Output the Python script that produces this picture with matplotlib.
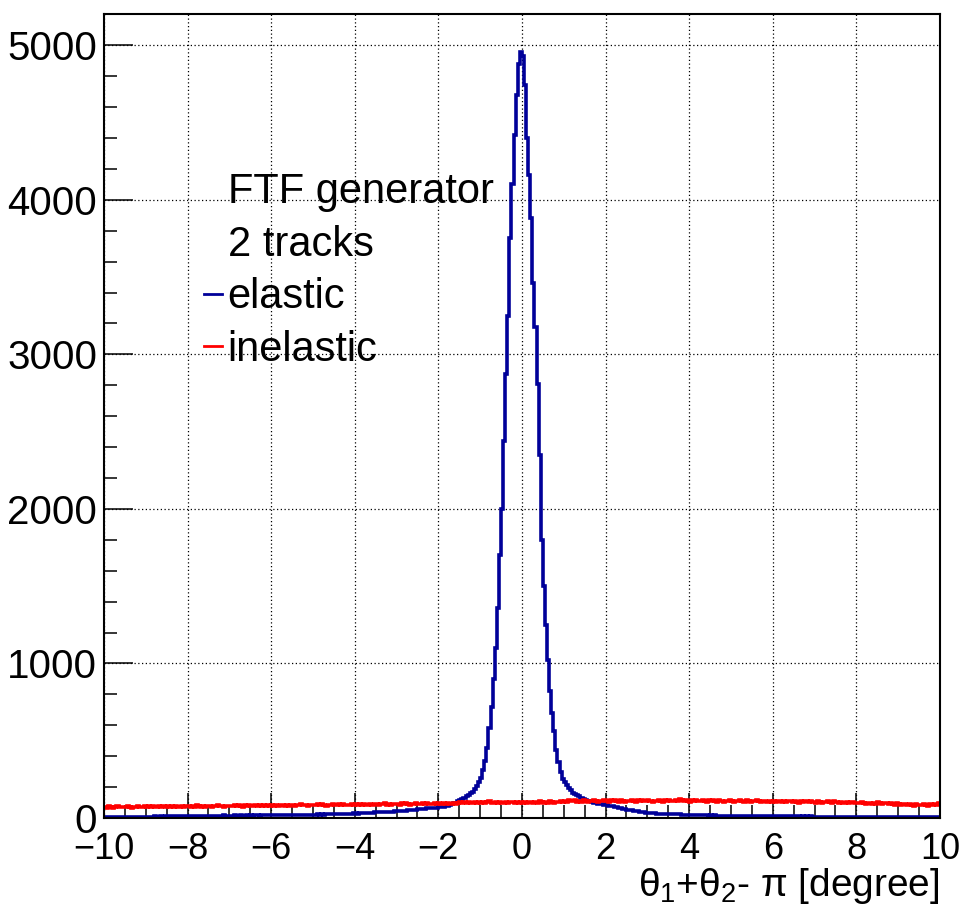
import numpy as np
import matplotlib
matplotlib.use("Agg")
import matplotlib.pyplot as plt
from matplotlib.lines import Line2D
from matplotlib.ticker import MultipleLocator

plt.rcParams["font.family"] = ["Liberation Sans", "DejaVu Sans"]
plt.rcParams["mathtext.fontset"] = "custom"
plt.rcParams["mathtext.rm"] = "Liberation Sans"
plt.rcParams["mathtext.it"] = "Liberation Sans"
plt.rcParams["mathtext.bf"] = "Liberation Sans:bold"

# Histogram range and binning (degrees)
x_min, x_max, n_bins = -10.0, 10.0, 400

# Counts per 0.05-degree bin, elastic events
elastic = [
    6, 7, 6, 8, 7, 6, 7, 8, 6, 7, 8, 7, 6, 8, 9, 7, 8, 7, 8, 9,
    8, 9, 8, 9, 10, 8, 9, 10, 9, 10, 12, 13, 12, 14, 13, 12, 14, 13, 15, 13,
    14, 13, 15, 14, 13, 15, 14, 15, 13, 14, 15, 14, 16, 15, 14, 16, 15, 17, 15, 16,
    15, 16, 17, 15, 16, 17, 16, 15, 17, 16, 17, 16, 18, 17, 16, 18, 17, 19, 17, 18,
    18, 17, 19, 18, 17, 19, 18, 20, 18, 19, 19, 20, 19, 21, 20, 19, 21, 20, 22, 21,
    22, 21, 23, 22, 24, 22, 23, 25, 24, 23, 25, 24, 26, 27, 25, 28, 27, 29, 28, 30,
    31, 29, 32, 31, 33, 32, 34, 33, 35, 36, 37, 36, 38, 39, 38, 40, 41, 40, 42, 43,
    45, 44, 47, 48, 47, 50, 51, 52, 54, 55, 57, 58, 60, 59, 62, 63, 64, 66, 67, 68,
    70, 72, 74, 77, 80, 85, 90, 95, 100, 108, 115, 122, 130, 140, 150, 160, 170, 185, 205, 230,
    260, 310, 370, 450, 580, 720, 900, 1100, 1360, 1700, 2000, 2440, 2870, 3250, 3750, 4100, 4420, 4680, 4880, 4955,
    4930, 4740, 4400, 4160, 3880, 3460, 3180, 2810, 2350, 1800, 1500, 1250, 1020, 820, 680, 560, 440, 360, 300, 255,
    230, 215, 195, 180, 165, 155, 148, 140, 132, 125, 118, 112, 108, 104, 100, 96, 92, 90, 88, 85,
    82, 80, 77, 75, 72, 70, 67, 64, 61, 58, 55, 52, 50, 48, 45, 43, 41, 39, 37, 35,
    33, 32, 31, 30, 29, 28, 28, 27, 26, 26, 25, 25, 24, 24, 23, 23, 22, 22, 21, 21,
    20, 19, 20, 18, 19, 18, 17, 18, 17, 16, 17, 16, 17, 15, 16, 15, 16, 15, 14, 15,
    15, 14, 15, 14, 13, 14, 13, 14, 13, 12, 13, 12, 13, 12, 13, 12, 11, 12, 11, 12,
    11, 12, 11, 10, 11, 10, 11, 10, 11, 10, 10, 11, 10, 9, 10, 9, 10, 9, 10, 9,
    9, 8, 9, 8, 9, 8, 9, 8, 9, 8, 8, 9, 8, 7, 8, 7, 8, 7, 8, 7,
    7, 8, 7, 6, 7, 6, 7, 6, 7, 6, 7, 6, 7, 6, 5, 6, 5, 6, 5, 6,
    6, 5, 6, 5, 6, 5, 6, 5, 6, 5, 5, 6, 5, 4, 5, 4, 5, 6, 5, 5,
]

# Counts per 0.05-degree bin, inelastic events
inelastic = [
    72, 68, 75, 70, 66, 73, 78, 71, 69, 74, 70, 76, 72, 67, 74, 71, 77, 73, 70, 75,
    73, 78, 71, 75, 69, 74, 79, 72, 76, 70, 75, 73, 77, 71, 78, 74, 70, 76, 73, 79,
    76, 72, 79, 74, 81, 75, 71, 78, 74, 80, 77, 73, 79, 76, 82, 75, 78, 74, 80, 77,
    79, 75, 82, 77, 84, 78, 74, 81, 77, 83, 80, 76, 82, 79, 85, 78, 81, 77, 84, 80,
    82, 78, 85, 80, 87, 81, 77, 84, 80, 86, 83, 79, 85, 82, 88, 81, 84, 80, 87, 83,
    85, 81, 88, 83, 90, 84, 80, 87, 83, 89, 86, 82, 88, 85, 91, 84, 87, 83, 90, 86,
    88, 84, 91, 86, 93, 87, 83, 90, 86, 92, 89, 85, 91, 88, 94, 87, 90, 86, 93, 89,
    91, 87, 94, 89, 96, 90, 86, 93, 89, 95, 92, 88, 94, 91, 97, 90, 93, 89, 96, 92,
    94, 90, 97, 92, 99, 93, 89, 96, 92, 98, 101, 95, 104, 97, 106, 99, 94, 102, 97, 105,
    98, 103, 96, 101, 107, 99, 94, 102, 97, 104, 100, 95, 103, 98, 106, 101, 96, 104, 99, 102,
    97, 103, 99, 106, 101, 95, 104, 98, 107, 102, 96, 105, 100, 108, 103, 97, 106, 101, 109, 104,
    110, 104, 116, 107, 112, 118, 105, 111, 106, 114, 108, 103, 112, 107, 115, 109, 104, 113, 108, 116,
    110, 105, 114, 108, 117, 111, 106, 115, 109, 104, 113, 108, 116, 110, 105, 114, 109, 118, 112, 107,
    115, 109, 104, 113, 108, 117, 111, 106, 115, 110, 119, 112, 107, 116, 110, 121, 114, 108, 117, 112,
    106, 115, 109, 118, 112, 107, 116, 110, 105, 114, 109, 117, 111, 106, 115, 110, 104, 113, 108, 116,
    110, 105, 113, 108, 116, 111, 106, 114, 109, 103, 112, 107, 115, 110, 104, 113, 108, 102, 111, 106,
    109, 104, 112, 107, 101, 110, 105, 113, 108, 102, 111, 106, 100, 109, 104, 112, 107, 101, 110, 105,
    99, 108, 103, 97, 106, 101, 109, 104, 98, 107, 102, 96, 105, 100, 94, 103, 98, 106, 101, 95,
    99, 94, 102, 97, 91, 100, 95, 89, 98, 93, 101, 96, 90, 99, 94, 88, 97, 92, 86, 95,
    90, 85, 93, 88, 82, 91, 86, 80, 89, 84, 87, 82, 90, 85, 80, 88, 83, 92, 87, 96,
]

x_ticks = [-10, -8, -6, -4, -2, 0, 2, 4, 6, 8, 10]
y_ticks = [0, 1000, 2000, 3000, 4000, 5000]
legend_labels = ["FTF generator", "2 tracks", "elastic", "inelastic"]
x_title = r"$\theta_{1}$+$\theta_{2}$- $\pi$ [degree]"

blue = "#000099"
red = "#ff0000"

edges = np.linspace(x_min, x_max, n_bins + 1)
y_top = 1.05 * max(elastic)

fig = plt.figure(figsize=(9.67, 9.08), dpi=100)
ax = fig.add_axes([0.1075, 0.0991, 0.8645, 0.8855])

ax.stairs(elastic, edges, color=blue, lw=2.6, baseline=None)
ax.stairs(inelastic, edges, color=red, lw=2.6, baseline=None)

ax.set_xlim(x_min, x_max)
ax.set_ylim(0, y_top)
ax.set_xticks(x_ticks)
ax.set_yticks(y_ticks)
ax.xaxis.set_minor_locator(MultipleLocator(0.5))
ax.yaxis.set_minor_locator(MultipleLocator(200))

ax.grid(True, which="major", color="black", lw=0.9, linestyle=(0, (1, 2)))
ax.set_axisbelow(True)

for s in ax.spines.values():
    s.set_linewidth(1.5)
    s.set_color("black")

ax.tick_params(axis="both", which="both", direction="in", top=False, right=False, width=1.1, color="black")
ax.tick_params(axis="y", which="major", length=21, labelsize=29, pad=5)
ax.tick_params(axis="y", which="minor", length=9.5)
ax.tick_params(axis="x", which="major", length=18, labelsize=26, pad=10)
ax.tick_params(axis="x", which="minor", length=9.5)

ax.set_xlabel(x_title, fontsize=28, loc="right", labelpad=-1)

handles = [
    Line2D([], [], color="none"),
    Line2D([], [], color="none"),
    Line2D([], [], color=blue, lw=2.0),
    Line2D([], [], color=red, lw=2.0),
]
ax.legend(handles, legend_labels, loc="upper left", bbox_to_anchor=(0.12, 0.803),
          frameon=False, fontsize=30, handlelength=0.42, handletextpad=0.14,
          labelspacing=0.3, borderpad=0.0, borderaxespad=0.0)

fig.savefig("out.png", dpi=100)
